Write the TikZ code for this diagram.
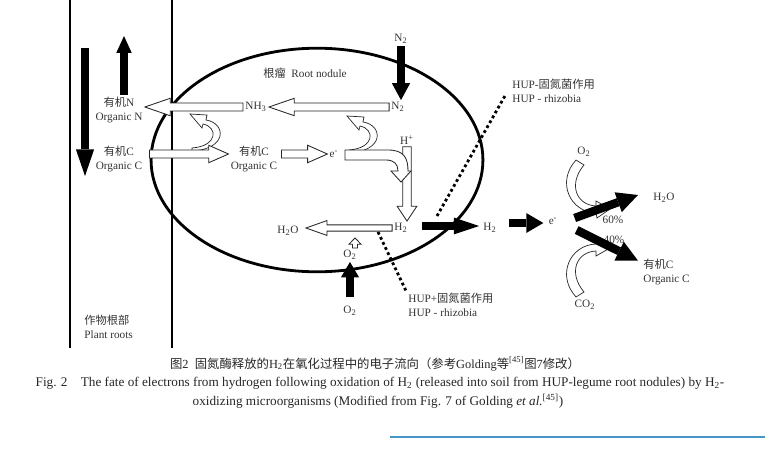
\documentclass[tikz,border=0pt]{standalone}
\usepackage{fontspec}
\setmainfont{Liberation Serif}
\newfontfamily\cjk{Noto Sans CJK SC}
\usetikzlibrary{shapes.geometric, arrows.meta, positioning, calc}
\definecolor{footblue}{RGB}{70,150,200}

% hollow block arrow: from, to, shaft half width, head half width, head length
\newcommand{\hollowarrow}[5]{%
  \draw[hollow] let \p1=(#1), \p2=(#2),
      \n1={atan2(\y2-\y1,\x2-\x1)}, \n2={veclen(\x2-\x1,\y2-\y1)} in
    (\p1) ++(\n1+90:#3) -- ++(\n1:\n2-#5) -- ++(\n1+90:#4-#3) -- (\p2)
    -- ($(\p2)+(\n1+180:#5)+(\n1-90:#4)$) -- ++(\n1+90:#4-#3)
    -- ++(\n1+180:\n2-#5) -- cycle;
}

\begin{document}
\begin{tikzpicture}[x=0.025cm, y=-0.025cm,
    lbl/.style={font=\fontsize{8}{10}\selectfont, text=black!80,
                inner sep=1.5pt, align=center},
    captext/.style={font=\fontsize{9.4}{11}\selectfont, text=black!85, inner sep=0pt},
    hollow/.style={draw=black!85, fill=white, line width=0.6pt},
    blk/.style={line width=5pt, -{Triangle[length=13pt, width=13pt, line width=0pt]}},
    rootline/.style={line width=1.5pt},
    hupline/.style={line width=2pt, dash pattern=on 2pt off 2pt},
    nodcres/.pic={\draw[hollow, line width=0.5pt] (0,0) .. controls (36,-2) and (34,-28) .. (14,-31)
        -- (15,-36) -- (-2,-37) -- (10,-23) -- (11,-27)
        .. controls (26,-24) and (26,-5) .. (0,-3) -- cycle;}
  ]
  \useasboundingbox (0,0) rectangle (778,449);

  % plant roots
  \draw[rootline] (70,0) -- (70,348);
  \draw[rootline] (172,0) -- (172,348);
  \node[lbl, anchor=west, align=left] (roots) at (82,327) {{\cjk 作物根部}\\Plant roots};

  % root nodule
  \node[draw, ellipse, line width=2pt, minimum width=236pt, minimum height=159pt,
        inner sep=0pt] (nodule) at (317,160) {};
  \node[lbl] (nodlbl) at (305,73) {{\cjk 根瘤}\ \ Root nodule};

  % labels
  \node[lbl] (orgN) at (119,110) {{\cjk 有机}N\\Organic N};
  \node[lbl] (orgCl) at (119,159) {{\cjk 有机}C\\Organic C};
  \node[lbl] (orgCm) at (254,159) {{\cjk 有机}C\\Organic C};
  \node[lbl] (nh3) at (256,107) {NH\textsubscript{3}};
  \node[lbl] (n2in) at (398,107) {N\textsubscript{2}};
  \node[lbl] (n2top) at (401,39) {N\textsubscript{2}};
  \node[lbl] (eIn) at (334,154) {e\textsuperscript{-}};
  \node[lbl] (hplus) at (407,140) {H\textsuperscript{+}};
  \node[lbl] (h2in) at (401,228) {H\textsubscript{2}};
  \node[lbl] (h2o) at (288,231) {H\textsubscript{2}O};
  \node[lbl] (o2in) at (350,255) {O\textsubscript{2}};
  \node[lbl] (o2out) at (350,311) {O\textsubscript{2}};
  \node[lbl, anchor=west, align=left] (hupTop) at (510,91) {HUP-{\cjk 固氮菌作用}\\HUP - rhizobia};
  \node[lbl, anchor=west, align=left] (hupBot) at (406,305) {HUP+{\cjk 固氮菌作用}\\HUP - rhizobia};
  \node[lbl] (h2out) at (490,228) {H\textsubscript{2}};
  \node[lbl] (eOut) at (553,221) {e\textsuperscript{-}};
  \node[lbl, anchor=west] (h2oR) at (651,198) {H\textsubscript{2}O};
  \node[lbl] (p60) at (613,220) {60\%};
  \node[lbl] (p40) at (614,240) {40\%};
  \node[lbl, anchor=west, align=left] (orgCr) at (641,272) {{\cjk 有机}C\\Organic C};
  \node[lbl] (o2R) at (584,152) {O\textsubscript{2}};
  \node[lbl] (co2) at (585,305) {CO\textsubscript{2}};

  % curved electron arrows
  \pic (crN) at (192,151) {nodcres};
  \pic (crE) at (349,153) {nodcres};
  \draw[hollow, line width=0.5pt] (576,160) .. controls (556,182) and (570,212) .. (596,213)
    -- (597,218) -- (610,209) -- (596,201) -- (596,206)
    .. controls (576,205) and (568,184) .. (584,165) -- cycle;
  \draw[hollow, line width=0.5pt] (576,297) .. controls (556,275) and (570,245) .. (596,244)
    -- (597,239) -- (610,248) -- (596,256) -- (596,251)
    .. controls (576,252) and (568,273) .. (584,292) -- cycle;

  % hollow arrows
  \hollowarrow{n2in.west}{nh3.east}{2.8pt}{6.2pt}{18pt}
  \hollowarrow{nh3.west}{orgN.east |- nh3.west}{2.8pt}{6.2pt}{18pt}
  \hollowarrow{$(orgCl.east |- eIn.west)+(5,0)$}{orgCm.west |- eIn.west}{2.8pt}{6.2pt}{14pt}
  \hollowarrow{$(orgCm.east |- eIn.west)+(2,0)$}{eIn.west}{2.8pt}{6.2pt}{14pt}
  \hollowarrow{hplus.south}{hplus.south |- h2in.north}{3pt}{7pt}{10.5pt}
  \draw[hollow] (345,150) -- (388,150) .. controls (404,150) and (408,158) .. (408,171)
    -- (411,171) -- (401,182) -- (391,171) -- (398,171)
    .. controls (398,164) and (394,160) .. (386,160) -- (345,160) -- cycle;
  \hollowarrow{h2in.west}{$(h2o.east |- h2in.west)+(5,0)$}{2.2pt}{5.3pt}{15pt}
  \hollowarrow{$(o2in.north)+(5,0)$}{$(o2in.north |- h2in.south)+(5,3)$}{1.8pt}{4.3pt}{4.5pt}

  % black arrows
  \coordinate (dnTop) at (85,48);
  \coordinate (dnEnd) at (85,176);
  \coordinate (upEnd) at (124,36);
  \draw[blk, -{Triangle[length=19pt, width=13pt, line width=0pt]}] (dnTop) -- (dnEnd);
  \draw[blk, -{Triangle[length=12pt, width=11pt, line width=0pt]}] (upEnd |- orgN.north) -- (upEnd);
  \draw[blk, -{Triangle[length=12pt, width=13pt, line width=0pt]}] (n2top.south) -- (n2top.south |- n2in.north);
  \draw[blk, shorten <=5pt, -{Triangle[length=11pt, width=13pt, line width=0pt]}] (o2out.north) -- (o2in.south);
  \draw[blk, -{Triangle[length=18pt, width=12pt, line width=0pt]}] ($(h2in.east)+(12,-2)$) -- ($(h2out.west)+(-2,-2)$);
  \draw[blk, -{Triangle[length=12pt, width=14pt, line width=0pt]}] ($(h2out.east)+(10,-5)$) -- ($(eOut.west)+(-3,2)$);
  \draw[blk, line width=6pt, -{Triangle[length=15pt, width=15pt, line width=0pt]}] ($(eOut.east)+(15,-3)$) -- ($(h2oR.west)+(-13,-3)$);
  \draw[blk, line width=6pt, -{Triangle[length=15pt, width=15pt, line width=0pt]}] ($(eOut.east)+(17,9)$) -- ($(orgCr.north west)+(-3,4)$);

  % HUP boundaries
  \coordinate (hupIn) at (437,216);
  \coordinate (hupIn2) at (378,232);
  \draw[hupline] (hupIn) -- ($(hupTop.west)+(-4,3)$);
  \draw[hupline] (hupIn2) -- (hupBot.north west);

  % caption
  \node[captext, font=\fontsize{8.8}{11}\selectfont] (cap1) at (375,364) {{\cjk 图}2\ \ {\cjk 固氮酶释放的}H\textsubscript{2}{\cjk 在氧化过程中的电子流向（参考}Golding{\cjk 等}\textsuperscript{[45]}{\cjk 图}7{\cjk 修改）}};
  \node[captext] (cap2) at (380,383) {Fig. 2\quad The fate of electrons from hydrogen following oxidation of H\textsubscript{2} (released into soil from HUP-legume root nodules) by H\textsubscript{2}-};
  \node[captext] (cap3) at (378,401) {oxidizing microorganisms (Modified from Fig. 7 of Golding \textit{et al.}\textsuperscript{[45]})};
  \draw[footblue, line width=0.8pt] (390,437) -- (765,437);
\end{tikzpicture}
\end{document}
